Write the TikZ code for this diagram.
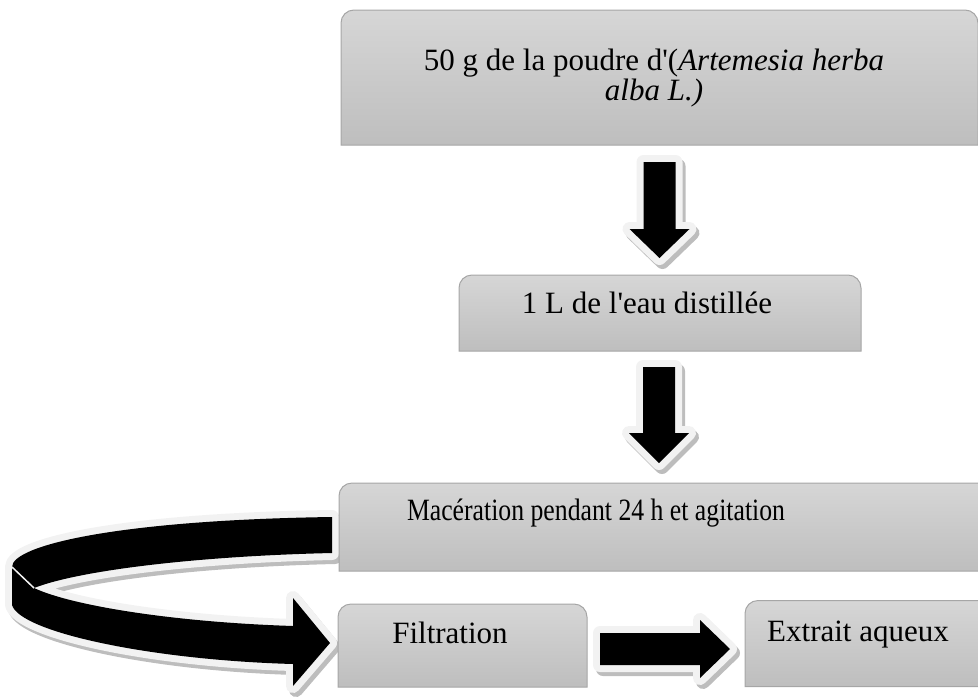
\documentclass[tikz,border=0pt]{standalone}
\usepackage{fontspec}
\setmainfont{Liberation Serif}[Ligatures=TeXOff]
\usetikzlibrary{positioning, calc}
\definecolor{BoxTop}    {HTML}{D6D6D6}
\definecolor{BoxBot}    {HTML}{BEBEBE}
\definecolor{BoxEdge}   {HTML}{A6A6A6}
\definecolor{ArrowRim}  {HTML}{F2F2F2}
\definecolor{ArrowShade}{HTML}{BDBDBD}
\tikzset{
  every node/.style={font=\fontsize{31}{30}\selectfont},
  % step boxes, frame drawn on their anchors
  stage/.style={inner sep=0pt, outer sep=0pt},
  frame/.style={draw=BoxEdge, line width=1pt, top color=BoxTop, bottom color=BoxBot},
  lbl/.style={anchor=base, inner sep=0pt},
  % black block arrows with light rim and shadow
  barrow/.style={fill=black, line join=round,
    preaction={draw=ArrowShade, fill=ArrowShade, line width=14pt, line join=round,
               transform canvas={shift={(3,4)}}},
    preaction={draw=ArrowRim, line width=14pt, line join=round}},
}
% frame with rounded top corners only (radius 13)
\newcommand{\stageframe}[1]{%
  \path[frame] (#1.south west) -- ($(#1.north west)+(0,13)$)
    .. controls ($(#1.north west)+(0,5.8)$) and ($(#1.north west)+(5.8,0)$) .. ($(#1.north west)+(13,0)$)
    -- ($(#1.north east)+(-13,0)$)
    .. controls ($(#1.north east)+(-5.8,0)$) and ($(#1.north east)+(0,5.8)$) .. ($(#1.north east)+(0,13)$)
    -- (#1.south east) -- cycle;}

\begin{document}
\begin{tikzpicture}[x=1pt, y=-1pt]
\useasboundingbox (0,0) rectangle (978,697);
\clip (0,0) rectangle (978,697);

\node[stage, minimum width=637pt, minimum height=135pt] (powder)  at (659.5,77.5) {};
\node[stage, minimum width=402pt, minimum height=76pt]  (water)   at (660,313) {};
\node[stage, minimum width=661pt, minimum height=88pt]  (macer)   at (669.5,527) {};
\node[stage, minimum width=249pt, minimum height=83pt]  (filtr)   at (462.5,645.5) {};
\node[stage, minimum width=255pt, minimum height=86pt]  (extract) at (872.5,643.5) {};

% down arrows
\coordinate (a1s) at ($(powder.south)+(0,17)$);
\coordinate (a1e) at ($(a1s |- water.north)+(0,-17)$);
\path[barrow] ($(a1s)+(-16,0)$) -- ($(a1s)+(16,0)$) -- ($(a1e)+(16,-29)$)
  -- ($(a1e)+(30,-29)$) -- (a1e) -- ($(a1e)+(-30,-29)$) -- ($(a1e)+(-16,-29)$) -- cycle;

\coordinate (a2s) at ($(water.south)+(-1,16)$);
\coordinate (a2e) at ($(a2s |- macer.north)+(0,-20)$);
\path[barrow] ($(a2s)+(-16,0)$) -- ($(a2s)+(16,0)$) -- ($(a2e)+(16,-30)$)
  -- ($(a2e)+(30,-30)$) -- (a2e) -- ($(a2e)+(-30,-30)$) -- ($(a2e)+(-16,-30)$) -- cycle;

% right arrow
\coordinate (a3s) at ($(filtr.east)+(13,3.5)$);
\coordinate (a3e) at ($(a3s -| extract.west)+(-15,0)$);
\path[barrow] ($(a3s)+(0,-16)$) -- ($(a3e)+(-30,-16)$) -- ($(a3e)+(-30,-29)$)
  -- (a3e) -- ($(a3e)+(-30,29)$) -- ($(a3e)+(-30,16)$) -- ($(a3s)+(0,16)$) -- cycle;

% curved ribbon arrow
\path[barrow] (332,517) .. controls (120,520) and (12,545) .. (12,567)
  -- (12,605) .. controls (20,632) and (150,660) .. (293,664)
  -- (293,686) -- (330,643) -- (293,598) -- (293,626)
  .. controls (170,622) and (70,605) .. (34,588)
  .. controls (80,570) and (200,556) .. (332,553) -- cycle;
\draw[ArrowRim, line width=1.5pt] (12,567) -- (34,588);

% box frames
\stageframe{powder}
\stageframe{water}
\stageframe{macer}
\stageframe{filtr}
\stageframe{extract}

% labels
\node[lbl, align=center] (powdertxt) at ($(powder.north)+(-5.5,90)$)
  {50 g de la poudre d'(\textit{Artemesia herba}\\\textit{alba L.)}};
\node[lbl] (watertxt)   at ($(water.north)+(-13,38)$) {1 L de l'eau distillée};
\node[lbl] (macertxt)   at ($(macer.north)+(-73.5,37)$) {\scalebox{0.83}[1]{Macération pendant 24 h et agitation}};
\node[lbl] (filtrtxt)   at ($(filtr.north)+(-12.5,39)$) {Filtration};
\node[lbl] (extracttxt) at ($(extract.north)+(-14.5,41)$) {Extrait aqueux};

\end{tikzpicture}
\end{document}
